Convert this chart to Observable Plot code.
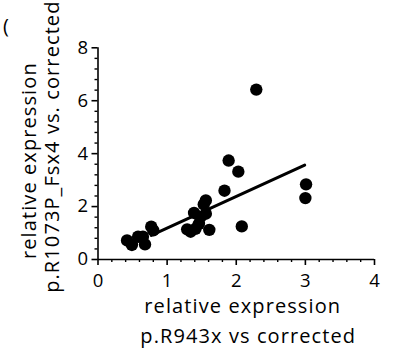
<!DOCTYPE html>
<html>
<head>
<meta charset="utf-8">
<script src="https://cdn.jsdelivr.net/npm/d3@7"></script>
<script src="https://cdn.jsdelivr.net/npm/@observablehq/plot@0.6"></script>
<style>
  html, body { margin: 0; padding: 0; background: white; }
  #chart { width: 393px; height: 351px; overflow: hidden; }
  #chart svg g[aria-label="text"] text { letter-spacing: 1.1px; }
</style>
</head>
<body>
<div id="chart"></div>
<script>
// Data
const xValues = [0.42, 0.49, 0.58, 0.65, 0.68, 0.77, 0.80, 1.29, 1.34, 1.39, 1.41, 1.46, 1.48, 1.53, 1.56, 1.56, 1.61, 1.83, 1.89, 2.03, 2.08, 2.29, 3.00, 3.01];
const yValues = [0.72, 0.55, 0.86, 0.86, 0.57, 1.24, 1.10, 1.14, 1.05, 1.76, 1.16, 1.35, 1.60, 2.08, 2.23, 1.73, 1.12, 2.60, 3.74, 3.32, 1.25, 6.42, 2.32, 2.84];
const fitX = [0.77, 2.99];
const fitY = [0.91, 3.57];
const xMajorTicks = [0, 1, 2, 3, 4];
const xMinorTicks = [0.2, 0.4, 0.6, 0.8, 1.2, 1.4, 1.6, 1.8, 2.2, 2.4, 2.6, 2.8, 3.2, 3.4, 3.6, 3.8];
const yMajorTicks = [0, 2, 4, 6, 8];
const yMinorTicks = [0.4, 0.8, 1.2, 1.6, 2.4, 2.8, 3.2, 3.6, 4.4, 4.8, 5.2, 5.6, 6.4, 6.8, 7.2, 7.6];
const xLabelLines = ["relative expression", "p.R943x vs corrected"];
const yLabelLines = ["relative expression", "p.R1073P_Fsx4 vs. corrected"];
const panelMark = ["("];

const points = xValues.map((x, i) => ({x, y: yValues[i]}));
const fit = fitX.map((x, i) => ({x, y: fitY[i]}));

const font = "Open Sans";
const chart = Plot.plot({
  width: 393,
  height: 351,
  marginLeft: 97.5,
  marginRight: 19,
  marginTop: 47.3,
  marginBottom: 92,
  x: {domain: [0, 4]},
  y: {domain: [0, 8]},
  style: {fontFamily: font, background: "white", color: "black", overflow: "visible"},
  marks: [
    Plot.ruleX([0], {y1: 0, y2: 8, strokeWidth: 1.6}),
    Plot.ruleY([0], {x1: 0, x2: 4, strokeWidth: 1.6}),
    Plot.axisX(xMinorTicks, {tickSize: 3, tickFormat: () => "", strokeWidth: 1.4, label: null}),
    Plot.axisX(xMajorTicks, {tickSize: 6, tickPadding: 8, fontSize: 18.5, strokeWidth: 1.6, label: null, tickFormat: d => String(d)}),
    Plot.axisY(yMinorTicks, {tickSize: 3, tickFormat: () => "", strokeWidth: 1.4, label: null}),
    Plot.axisY(yMajorTicks, {tickSize: 6, tickPadding: 4, fontSize: 18.5, strokeWidth: 1.6, label: null, tickFormat: d => String(d)}),
    Plot.line(fit, {x: "x", y: "y", stroke: "black", strokeWidth: 3}),
    Plot.dot(points, {x: "x", y: "y", r: 6.2, fill: "black", stroke: "none"}),
    Plot.text([xLabelLines[0]], {frameAnchor: "bottom", text: d => d, textAnchor: "middle", dx: 6.5, dy: 46.6, fontSize: 20, lineAnchor: "middle", fill: "black"}),
    Plot.text([xLabelLines[1]], {frameAnchor: "bottom", text: d => d, textAnchor: "middle", dx: 12, dy: 76.6, fontSize: 20, lineAnchor: "middle", fill: "black"}),
    Plot.text([yLabelLines[0]], {frameAnchor: "left", text: d => d, textAnchor: "middle", rotate: -90, dx: -68, dy: 7, fontSize: 20, lineAnchor: "middle", fill: "black"}),
    Plot.text([yLabelLines[1]], {frameAnchor: "left", text: d => d, textAnchor: "middle", rotate: -90, dx: -45, dy: -7, fontSize: 20, lineAnchor: "middle", fill: "black"}),
    Plot.text(panelMark, {frameAnchor: "top-left", text: d => d, dx: -95, dy: -21, fontSize: 20, lineAnchor: "middle", fill: "black"})
  ]
});
document.getElementById("chart").appendChild(chart);
</script>
</body>
</html>
